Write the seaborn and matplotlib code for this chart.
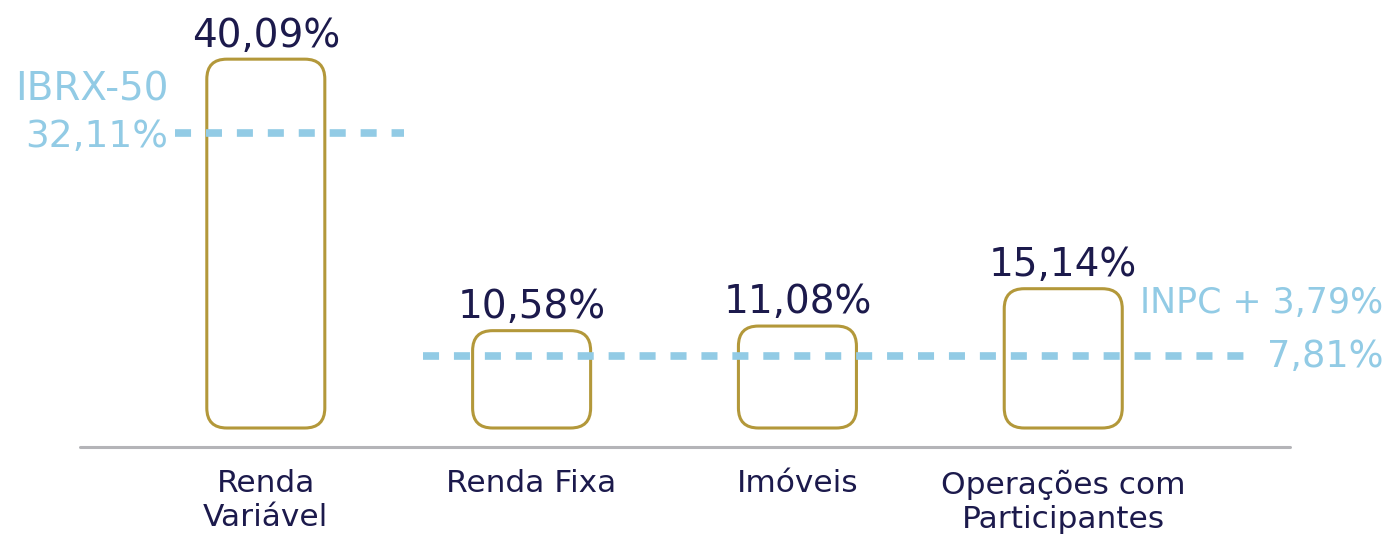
import numpy as np
import pandas as pd
import matplotlib
matplotlib.use('Agg')
import matplotlib.pyplot as plt
import seaborn as sns
from matplotlib.patches import FancyBboxPatch

# Data
categories = ['Renda\nVariável', 'Renda Fixa', 'Imóveis', 'Operações com\nParticipantes']
returns = [40.09, 10.58, 11.08, 15.14]
value_labels = ['40,09%', '10,58%', '11,08%', '15,14%']

bench_names = ['IBRX-50', 'INPC + 3,79%']
bench_values = [32.11, 7.81]
bench_labels = ['32,11%', '7,81%']

# Colours
NAVY = '#1c1a4c'
GOLD = '#b3983a'
LIGHT_BLUE = '#92cbe5'
GREY = '#b4b4b8'

sns.set_theme(style='white')
plt.rcParams['font.family'] = ['DejaVu Sans']

df = pd.DataFrame({'categoria': categories, 'retorno': returns})

fig = plt.figure(figsize=(13.87, 5.35), dpi=100)
ax = fig.add_axes([0, 0, 1, 1])

sns.barplot(data=df, x='categoria', y='retorno', ax=ax, width=0.444,
            color='white', edgecolor=GOLD, linewidth=2.2)

# limits so that the layout matches the picture
ax.set_xlim(-1.0, 4.218)
ax.set_ylim(-11.63, 46.52)
ax.axis('off')

# replace the plain bars with rounded ones
x_ppu = 1387 / (4.218 + 1.0)
y_ppu = 535 / (46.52 + 11.63)
radius = 20 / x_ppu
for p in list(ax.patches):
    x0, y0, w, h = p.get_x(), p.get_y(), p.get_width(), p.get_height()
    p.remove()
    ax.add_patch(FancyBboxPatch((x0, y0), w, h,
                                boxstyle=f'round,pad=0,rounding_size={radius}',
                                mutation_aspect=x_ppu / y_ppu,
                                facecolor='none', edgecolor=GOLD, linewidth=2.2,
                                zorder=2))

# value labels above the bars
for i, (v, lab) in enumerate(zip(returns, value_labels)):
    ax.annotate(lab, (i, v), xytext=(0, 17), textcoords='offset points',
                ha='center', va='center', fontsize=28, color=NAVY)

# category labels under the baseline
for i, cat in enumerate(categories):
    ax.text(i, -4.5, cat, ha='center', va='top', fontsize=22.5,
            color=NAVY, linespacing=1.22)

# baseline
ax.axhline(-2.05, xmin=0.058, xmax=0.93, color=GREY, linewidth=2.2, zorder=1)

# benchmark dashed lines
spans = [(-0.34, 0.52), (0.59, 3.68)]
for (x_a, x_b), val in zip(spans, bench_values):
    ax.plot([x_a, x_b], [val, val], color=LIGHT_BLUE, linewidth=5.5,
            dashes=(2.1, 1.95), solid_capstyle='butt', dash_capstyle='butt',
            zorder=3)

# IBRX-50 labels (left)
ax.annotate(bench_labels[0], (-0.367, bench_values[0]), xytext=(0, -3),
            textcoords='offset points', ha='right', va='center',
            fontsize=27, color=LIGHT_BLUE)
ax.annotate(bench_names[0], (-0.367, bench_values[0]), xytext=(0, 31),
            textcoords='offset points', ha='right', va='center',
            fontsize=28, color=LIGHT_BLUE)

# INPC labels (right)
ax.annotate(bench_labels[1], (4.203, bench_values[1]), xytext=(0, 0),
            textcoords='offset points', ha='right', va='center',
            fontsize=26.5, color=LIGHT_BLUE)
ax.annotate(bench_names[1], (4.203, bench_values[1]), xytext=(0, 38),
            textcoords='offset points', ha='right', va='center',
            fontsize=25, color=LIGHT_BLUE)

fig.savefig('out.png', dpi=100)
